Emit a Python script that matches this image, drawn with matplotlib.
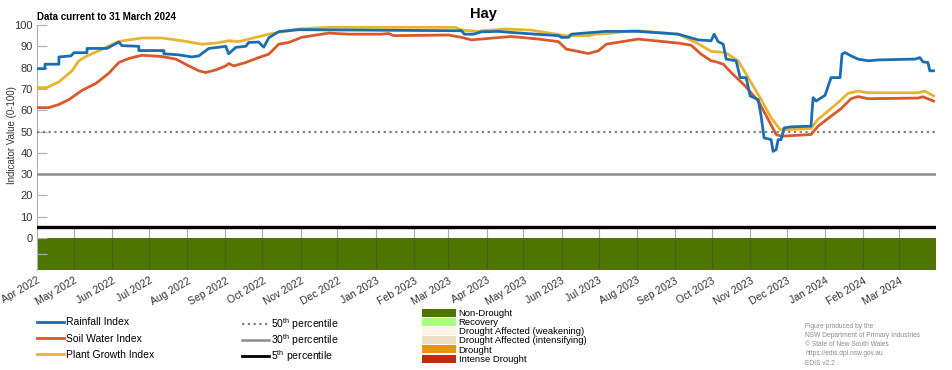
import pandas as pd
import numpy as np
import matplotlib
matplotlib.use('Agg')
import matplotlib.pyplot as plt
import matplotlib.dates as mdates
from matplotlib.lines import Line2D
from matplotlib.patches import Patch

plt.rcParams['font.family'] = ['Liberation Sans', 'DejaVu Sans']
plt.rcParams['mathtext.default'] = 'regular'

start = pd.Timestamp('2022-04-01')
end = pd.Timestamp('2024-03-31')

# days since 1 Apr 2022, index value
rain_day = [0, 6.5, 6.5, 17.8, 17.8, 27.6, 30, 40.6, 40.6, 56.8, 60, 66.5, 69, 82.7, 82.7, 103, 103,
            115, 125.7, 131.4, 139.5, 153.3, 155.7, 161.4, 169.5, 171.9, 180, 184.1, 188.2, 196.3,
            212.5, 344.7, 347, 354.4, 360.9, 374.7, 385.2, 404.7, 423.4, 425.8, 431.5, 433.9, 461.5,
            488.2, 520.7, 536.9, 547.4, 549.8, 553.1, 557.2, 559.6, 567.7, 571, 575.8, 579.1, 585.6,
            588, 590.4, 596.1, 597.7, 600.2, 601.8, 604.2, 606.7, 612.3, 628.5, 630.2, 632.6, 639.9,
            644.8, 652.1, 653.7, 656.1, 661, 666.7, 674.8, 682.9, 712.9, 716.9, 719.4, 723.4, 725, 728]
rain_val = [79.5, 79.5, 81.6, 81.6, 85, 85.5, 87, 87, 89, 89, 90, 92, 90.3, 90, 88, 88, 86.5,
            86, 85, 85.5, 89, 90, 86.5, 89.5, 90, 91.8, 92, 89.6, 94, 96.9,
            97.8, 97.3, 95.7, 95.7, 96.8, 97, 96.5, 95.7, 95, 94.2, 94.2, 95.7, 97,
            97, 95.7, 93, 92.6, 95.7, 92.2, 91, 84, 83.2, 75.3, 75.3, 66.7, 65,
            57.2, 47, 46.2, 40.7, 41.5, 46.2, 46.2, 51.7, 52.2, 52.5, 65.9, 64.3, 67,
            75.3, 75.3, 86.3, 87.1, 85.5, 84, 83.2, 83.6, 84, 84.7, 82.7, 82.4, 78.5, 78.5]

soil_day = [0, 9.7, 17.8, 26, 36.5, 47.9, 58.4, 66.5, 74.6, 85.2, 101.4, 112.7, 123.3, 131.4, 137,
            145.2, 153.3, 155.7, 159.8, 169.5, 180, 184.1, 188.2, 196.3, 204.4, 214.9, 236.8, 253,
            279.8, 285.5, 289.5, 334.1, 344.7, 352.8, 366.6, 385.2, 407.1, 423.4, 429.8, 447.7, 455.8,
            462.3, 488.2, 520.7, 531.2, 539.3, 547.4, 551.5, 557.2, 563.7, 575, 585.6, 593.7, 600.2,
            604.2, 628.5, 634.2, 644.8, 652.9, 661, 666.7, 674.8, 715.3, 719.4, 728]
soil_val = [61.2, 61.2, 62.7, 65, 69.3, 72.6, 77.4, 82.4, 84.3, 85.8, 85.2, 84, 80.8, 78.5, 77.7,
            78.9, 80.8, 81.9, 80.8, 82.4, 84.7, 85.5, 86.3, 91, 91.8, 94.2, 96.2, 95.7,
            95.7, 96, 95, 95.3, 94.2, 93, 93.7, 94.6, 93.4, 92.2, 88.7, 86.6, 87.9,
            91, 93.4, 91.5, 90.5, 86.3, 83.2, 82.7, 81.6, 77.7, 71.4, 64.3, 55.7, 48.6,
            47.8, 48.6, 52.5, 57.2, 60.7, 65.4, 66.4, 65.4, 65.7, 66.3, 64.3]

plant_day = [0, 8, 17.8, 28.4, 34, 40.6, 50.3, 58.4, 66.5, 74.6, 85.2, 101.4, 117.6, 133.8, 145.2,
             155.7, 163.8, 177.6, 188.2, 212.5, 236.8, 339.8, 344.7, 358.5, 360.9, 380.4, 401.5,
             412.8, 425.8, 429, 447.7, 453.4, 463.9, 482.6, 488.2, 520.7, 536, 547.4, 558.8, 569.3,
             579.9, 588, 596.1, 603.4, 609.9, 628.5, 634.2, 642.3, 650.4, 658.6, 666.7, 674.8, 715.3,
             721, 728]
plant_val = [70.6, 70.6, 73.3, 78.5, 83.2, 85.5, 87.9, 90.2, 92.3, 93, 93.9, 93.9, 92.6, 91, 91.5,
             92.6, 92.2, 94.2, 95.7, 98.1, 98.9, 98.9, 97.6, 97, 97.3, 98.1, 97.6,
             96.5, 95.3, 95, 95, 95.7, 96, 97.3, 97.3, 95.7, 91.5, 87.6, 87.1, 83.2,
             73, 65, 56.5, 50.9, 50.9, 51.4, 55.7, 59.6, 63.5, 67.9, 69, 68.2, 68.2,
             69, 66.7]

percentiles = [50, 30, 5]
drought_labels = ['Non-Drought', 'Recovery', 'Drought Affected (weakening)',
                  'Drought Affected (intensifying)', 'Drought', 'Intense Drought']
drought_colors = ['#4e7500', '#a8ff80', '#fdf4e8', '#ebe1c2', '#e39612', '#c0290c']


def to_dates(days):
    return start + pd.to_timedelta(np.array(days), unit='D')


fig = plt.figure(figsize=(9.52, 3.70), dpi=100)
ax = fig.add_axes([37/952, 1-270/370, 899/952, 245/370])

# status bar (all Non-Drought over the period)
ax.axhspan(-15, 0, color=drought_colors[0], lw=0, zorder=1)
months = pd.date_range(start, end, freq='MS')
ax.vlines(months, -15, 5, color='#444444', lw=0.8, alpha=0.45, zorder=2)

ax.axhline(percentiles[0], color='#7f7f7f', lw=1.6, ls=(0, (1, 1.6)), zorder=3)
ax.axhline(percentiles[1], color='#8c8c8c', lw=1.8, zorder=3)
ax.axhline(percentiles[2], color='black', lw=2.4, zorder=3)

c_rain, c_soil, c_plant = '#1b6db3', '#d9592a', '#e8b42f'
ax.plot(to_dates(plant_day), plant_val, color=c_plant, lw=2, zorder=4)
ax.plot(to_dates(soil_day), soil_val, color=c_soil, lw=2, zorder=5)
ax.plot(to_dates(rain_day), rain_val, color=c_rain, lw=2, zorder=6)

ax.set_xlim(start, end)
ax.set_ylim(-15, 100)
ax.set_yticks(list(range(0, 101, 10)) + [-7.5])
ax.set_yticklabels([str(v) for v in range(0, 101, 10)] + [''])
ax.tick_params(axis='y', direction='in', length=7, color='#b0b0b0', labelsize=8,
               labelcolor='#333333', pad=3)
ax.set_xticks(months)
ax.xaxis.set_major_formatter(mdates.DateFormatter('%b %Y'))
ax.tick_params(axis='x', length=0, labelsize=7.5, labelcolor='#333333', pad=4)
for lab in ax.get_xticklabels():
    lab.set_rotation(30)
    lab.set_ha('right')
    lab.set_rotation_mode('anchor')
for s in ['top', 'right', 'bottom']:
    ax.spines[s].set_visible(False)
ax.spines['left'].set_color('#b0b0b0')
ax.set_ylabel('Indicator Value (0-100)', fontsize=7, color='#333333')
ax.yaxis.set_label_coords(-20/899, 0.55)

fig.text(37/952, 1-17/370, 'Data current to 31 March 2024', fontsize=7, fontweight='bold',
         va='center', ha='left')
fig.text(483/952, 1-14/370, 'Hay', fontsize=10.5, fontweight='bold', va='center', ha='center')

h1 = [Line2D([], [], color=c, lw=2) for c in [c_rain, c_soil, c_plant]]
fig.legend(h1, ['Rainfall Index', 'Soil Water Index', 'Plant Growth Index'],
           loc='upper left', bbox_to_anchor=(33/952, 1-313/370), frameon=False, fontsize=7.5,
           handlelength=2.6, handletextpad=0.2, labelspacing=0.62, borderaxespad=0)

h2 = [Line2D([], [], color='#7f7f7f', lw=1.6, ls=(0, (1, 1.6))),
      Line2D([], [], color='#8c8c8c', lw=1.8),
      Line2D([], [], color='black', lw=2)]
fig.legend(h2, ['%d$^{th}$ percentile' % p for p in percentiles],
           loc='upper left', bbox_to_anchor=(238/952, 1-312/370), frameon=False, fontsize=7.5,
           handlelength=2.6, handletextpad=0.15, labelspacing=0.02, borderaxespad=0)

h3 = [Patch(facecolor=c, edgecolor='none') for c in drought_colors]
fig.legend(h3, drought_labels, loc='upper left', bbox_to_anchor=(418/952, 1-305/370),
           frameon=False, fontsize=6.8, handlelength=3.6, handleheight=0.9,
           handletextpad=0.3, labelspacing=0.0, borderaxespad=0)

credits = ['Figure produced by the', 'NSW Department of Primary Industries',
           '\u00a9 State of New South Wales', 'https://edis.dpi.nsw.gov.au', 'EDIS v2.2']
for i, t in enumerate(credits):
    fig.text(805/952, 1-(326 + i*9.3)/370, t, fontsize=4.8, color='#8a8a8a', va='center', ha='left')

fig.savefig('out.png', dpi=100)
